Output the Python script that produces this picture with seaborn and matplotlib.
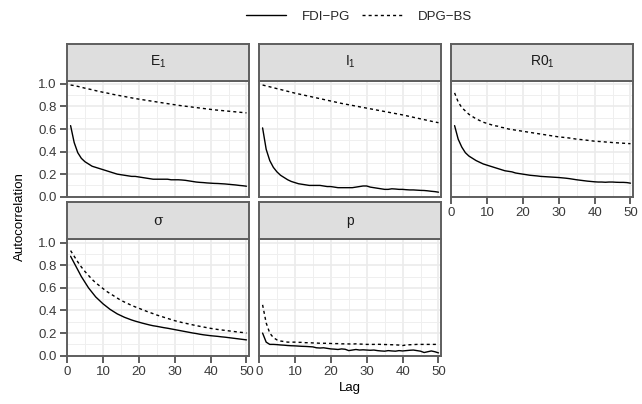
import numpy as np
import pandas as pd
import seaborn as sns
import matplotlib.pyplot as plt
from matplotlib.lines import Line2D
from matplotlib.ticker import MultipleLocator

#-----------------------------------------------------------------------------------------------------------------------
"""Data read off the reference"""
lags = list(range(1, 51))
methods = ['FDI\u2212PG', 'DPG\u2212BS']
panels = ['E1', 'I1', 'R01', 'sigma', 'p']

E1_fdi = [0.63, 0.48, 0.39, 0.34, 0.31, 0.29, 0.27, 0.26, 0.25, 0.24,
          0.23, 0.22, 0.21, 0.20, 0.195, 0.19, 0.185, 0.18, 0.18, 0.175,
          0.17, 0.165, 0.16, 0.155, 0.155, 0.155, 0.155, 0.155, 0.15, 0.15,
          0.15, 0.148, 0.145, 0.14, 0.135, 0.13, 0.127, 0.125, 0.122, 0.12,
          0.118, 0.117, 0.115, 0.113, 0.11, 0.107, 0.104, 0.10, 0.097, 0.093]
E1_dpg = [0.99, 0.985, 0.978, 0.97, 0.962, 0.955, 0.948, 0.94, 0.933, 0.926,
          0.92, 0.913, 0.906, 0.90, 0.894, 0.888, 0.882, 0.876, 0.87, 0.865,
          0.86, 0.855, 0.85, 0.845, 0.84, 0.835, 0.83, 0.825, 0.82, 0.815,
          0.81, 0.806, 0.802, 0.798, 0.794, 0.79, 0.786, 0.782, 0.778, 0.774,
          0.77, 0.767, 0.764, 0.761, 0.758, 0.755, 0.752, 0.749, 0.746, 0.743]

I1_fdi = [0.61, 0.42, 0.32, 0.26, 0.22, 0.19, 0.17, 0.15, 0.135, 0.125,
          0.115, 0.11, 0.105, 0.10, 0.10, 0.10, 0.10, 0.095, 0.09, 0.09,
          0.085, 0.08, 0.08, 0.08, 0.08, 0.08, 0.085, 0.09, 0.095, 0.095,
          0.085, 0.08, 0.075, 0.07, 0.065, 0.065, 0.07, 0.068, 0.065, 0.065,
          0.062, 0.06, 0.06, 0.058, 0.056, 0.055, 0.052, 0.048, 0.045, 0.04]
I1_dpg = [0.99, 0.982, 0.974, 0.966, 0.958, 0.95, 0.942, 0.934, 0.926, 0.918,
          0.911, 0.904, 0.897, 0.89, 0.883, 0.876, 0.869, 0.862, 0.855, 0.848,
          0.841, 0.834, 0.827, 0.821, 0.815, 0.809, 0.803, 0.797, 0.791, 0.785,
          0.779, 0.773, 0.767, 0.761, 0.755, 0.749, 0.743, 0.737, 0.731, 0.725,
          0.718, 0.711, 0.704, 0.697, 0.69, 0.683, 0.676, 0.669, 0.662, 0.656]

R01_fdi = [0.63, 0.51, 0.44, 0.39, 0.36, 0.34, 0.32, 0.305, 0.29, 0.28,
           0.27, 0.26, 0.25, 0.24, 0.23, 0.225, 0.22, 0.21, 0.205, 0.20,
           0.195, 0.19, 0.187, 0.184, 0.18, 0.178, 0.176, 0.174, 0.172, 0.17,
           0.167, 0.164, 0.16, 0.155, 0.15, 0.146, 0.142, 0.138, 0.135, 0.132,
           0.13, 0.13, 0.128, 0.13, 0.13, 0.128, 0.127, 0.127, 0.125, 0.12]
R01_dpg = [0.92, 0.84, 0.79, 0.76, 0.73, 0.71, 0.69, 0.675, 0.66, 0.65,
           0.64, 0.63, 0.625, 0.615, 0.61, 0.60, 0.595, 0.59, 0.585, 0.58,
           0.575, 0.57, 0.565, 0.56, 0.555, 0.55, 0.545, 0.54, 0.535, 0.53,
           0.527, 0.524, 0.52, 0.515, 0.51, 0.507, 0.504, 0.50, 0.496, 0.492,
           0.49, 0.488, 0.485, 0.483, 0.48, 0.478, 0.476, 0.474, 0.472, 0.47]

sigma_fdi = [0.88, 0.82, 0.76, 0.70, 0.65, 0.60, 0.56, 0.52, 0.49, 0.46,
             0.435, 0.41, 0.39, 0.37, 0.355, 0.34, 0.328, 0.316, 0.306, 0.297,
             0.288, 0.28, 0.272, 0.265, 0.26, 0.254, 0.248, 0.243, 0.237, 0.231,
             0.225, 0.219, 0.213, 0.207, 0.201, 0.196, 0.19, 0.185, 0.181, 0.177,
             0.174, 0.171, 0.167, 0.164, 0.16, 0.156, 0.152, 0.148, 0.144, 0.14]
sigma_dpg = [0.93, 0.88, 0.83, 0.785, 0.745, 0.71, 0.675, 0.645, 0.62, 0.595,
             0.57, 0.55, 0.53, 0.51, 0.49, 0.475, 0.46, 0.445, 0.432, 0.42,
             0.407, 0.395, 0.383, 0.372, 0.36, 0.35, 0.34, 0.33, 0.32, 0.31,
             0.302, 0.294, 0.287, 0.28, 0.273, 0.266, 0.26, 0.254, 0.248, 0.242,
             0.237, 0.232, 0.228, 0.224, 0.22, 0.216, 0.212, 0.208, 0.205, 0.20]

p_fdi = [0.20, 0.12, 0.10, 0.10, 0.098, 0.095, 0.093, 0.09, 0.088, 0.087,
         0.085, 0.083, 0.082, 0.08, 0.078, 0.07, 0.068, 0.07, 0.065, 0.06,
         0.058, 0.055, 0.06, 0.057, 0.045, 0.05, 0.055, 0.05, 0.052, 0.05,
         0.048, 0.05, 0.045, 0.042, 0.04, 0.045, 0.042, 0.04, 0.045, 0.042,
         0.045, 0.048, 0.05, 0.045, 0.04, 0.028, 0.035, 0.042, 0.035, 0.025]
p_dpg = [0.45, 0.29, 0.20, 0.16, 0.14, 0.13, 0.125, 0.12, 0.12, 0.12,
         0.118, 0.118, 0.115, 0.115, 0.113, 0.112, 0.11, 0.11, 0.11, 0.108,
         0.107, 0.107, 0.105, 0.105, 0.104, 0.103, 0.105, 0.103, 0.102, 0.10,
         0.10, 0.10, 0.101, 0.10, 0.099, 0.098, 0.097, 0.096, 0.094, 0.09,
         0.095, 0.097, 0.098, 0.10, 0.10, 0.10, 0.10, 0.10, 0.10, 0.10]

series = {
    'E1': (E1_fdi, E1_dpg),
    'I1': (I1_fdi, I1_dpg),
    'R01': (R01_fdi, R01_dpg),
    'sigma': (sigma_fdi, sigma_dpg),
    'p': (p_fdi, p_dpg),
}

# long table for seaborn
rows = []
for name in panels:
    for m, vals in zip(methods, series[name]):
        for lag, v in zip(lags, vals):
            rows.append((name, m, lag, v))
df = pd.DataFrame(rows, columns=['param', 'method', 'lag', 'acf'])

#-----------------------------------------------------------------------------------------------------------------------
"""Styling"""
sns.set_style('white')
plt.rcParams['font.family'] = ['Liberation Sans', 'DejaVu Sans']
plt.rcParams['mathtext.fontset'] = 'custom'
plt.rcParams['mathtext.rm'] = 'Liberation Sans'
plt.rcParams['mathtext.it'] = 'Liberation Sans'

W, H = 642, 404
fig = plt.figure(figsize=(W / 100, H / 100), dpi=100)
fig.patch.set_facecolor('white')

border = '#5E5E5E'
textcol = '#3A3A3A'
dash_map = {methods[0]: '', methods[1]: (2.2, 2.2)}

strip_labels = {
    'E1': r'E$_\mathregular{1}$',
    'I1': r'I$_\mathregular{1}$',
    'R01': r'R0$_\mathregular{1}$',
    'sigma': '\u03c3',
    'p': 'p',
}

col_x = [67, 259, 451]
panel_w = 182
rows_px = [(43.5, 80.5, 196.7), (201.8, 239.3, 355.7)]   # strip top, plot top, plot bottom


def px_box(x0, top, w, h):
    return [x0 / W, 1 - (top + h) / H, w / W, h / H]


#-----------------------------------------------------------------------------------------------------------------------
"""Panels"""
for i, name in enumerate(panels):
    r, c = divmod(i, 3)
    s_top, p_top, p_bot = rows_px[r]
    x0 = col_x[c]

    ax = fig.add_axes(px_box(x0, p_top, panel_w, p_bot - p_top))
    sub = df[df['param'] == name]
    sns.lineplot(data=sub, x='lag', y='acf', style='method', style_order=methods,
                 dashes=dash_map, color='black', linewidth=1.0, ax=ax, legend=False)

    ax.set_xlim(0, 50.7)
    ax.set_ylim(0, 1.03)
    ax.xaxis.set_major_locator(MultipleLocator(10))
    ax.xaxis.set_minor_locator(MultipleLocator(5))
    ax.yaxis.set_major_locator(MultipleLocator(0.2))
    ax.yaxis.set_minor_locator(MultipleLocator(0.1))
    ax.grid(which='major', color='#EBEBEB', linewidth=1.2)
    ax.grid(which='minor', color='#EFEFEF', linewidth=0.7)
    ax.set_axisbelow(True)
    ax.set_facecolor('white')
    for sp in ax.spines.values():
        sp.set_color(border)
        sp.set_linewidth(1.4)
    ax.set_xlabel('')
    ax.set_ylabel('')

    show_left = (c == 0)
    show_bottom = (r == 1) or (c == 2)
    ax.tick_params(which='major', direction='out', length=5, width=1.4, color=border,
                   labelsize=9.5, labelcolor=textcol, pad=2.5,
                   left=show_left, labelleft=show_left,
                   bottom=show_bottom, labelbottom=show_bottom)
    ax.tick_params(which='minor', left=False, bottom=False)
    ax.yaxis.set_major_formatter(plt.FuncFormatter(lambda v, _: f'{v:.1f}'))

    # strip on top
    sax = fig.add_axes(px_box(x0, s_top, panel_w, p_top - s_top))
    sax.set_facecolor('#DEDEDE')
    sax.set_xticks([])
    sax.set_yticks([])
    for sp in sax.spines.values():
        sp.set_color(border)
        sp.set_linewidth(1.4)
    fam = ['DejaVu Serif'] if name == 'sigma' else ['Liberation Sans', 'DejaVu Sans']
    sax.text(0.5, 0.5, strip_labels[name], ha='center', va='center', fontsize=10,
             color='#1A1A1A', family=fam, transform=sax.transAxes)

#-----------------------------------------------------------------------------------------------------------------------
"""Axis titles and legend"""
fig.text(20 / W, 1 - 217 / H, 'Autocorrelation', rotation=90, ha='center', va='center',
         fontsize=9.5, color='black')
fig.text(350 / W, 1 - 388 / H, 'Lag', ha='center', va='center', fontsize=9.5, color='black')

handles = [Line2D([], [], color='black', linewidth=1.0),
           Line2D([], [], color='black', linewidth=1.0, dashes=(2.2, 2.2))]
fig.legend(handles, methods, loc='center', bbox_to_anchor=(359 / W, 1 - 17 / H), ncol=2,
           frameon=False, fontsize=9.5, handlelength=3.0, handletextpad=1.2,
           columnspacing=0.9)

fig.savefig('out.png', dpi=100, facecolor='white')
